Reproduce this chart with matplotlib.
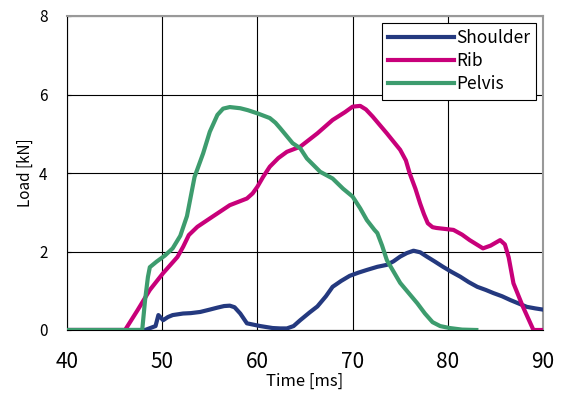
import matplotlib.pyplot as plt

plt.rcParams['font.family'] = ['Noto Sans CJK JP', 'DejaVu Sans']

# Shoulder
shoulder_t = [40, 48.2, 49.3, 49.6, 50.1, 50.6, 51.1, 52.2, 53, 54, 55, 55.8, 56.5, 57.1,
              57.6, 58.2, 58.9, 60.3, 61.6, 62.4, 63.1, 63.8, 64.5, 65.5, 66.3, 67.2, 67.9,
              68.8, 69.7, 70.6, 71.5, 72.6, 73.6, 74.3, 75, 75.7, 76.4, 77.1, 77.8, 78.6,
              79.5, 80.4, 81.3, 82.2, 83.1, 84, 84.8, 85.7, 86.6, 87.5, 88.3, 89.2, 90]
shoulder_v = [0, 0, 0.1, 0.38, 0.25, 0.33, 0.38, 0.42, 0.43, 0.46, 0.52, 0.57, 0.61, 0.62,
              0.58, 0.42, 0.17, 0.1, 0.05, 0.04, 0.04, 0.1, 0.25, 0.45, 0.6, 0.86, 1.1,
              1.25, 1.38, 1.46, 1.53, 1.61, 1.66, 1.75, 1.87, 1.96, 2.02, 1.98, 1.87, 1.75,
              1.61, 1.48, 1.36, 1.22, 1.1, 1.02, 0.94, 0.86, 0.76, 0.67, 0.59, 0.55, 0.52]

# Rib
rib_t = [40, 46.1, 47.4, 48.7, 50.1, 51.6, 52.2, 52.8, 53.7, 55.3, 57.1, 58.9, 59.5, 60,
         60.6, 61.3, 62.2, 63.1, 64.5, 66.3, 67.9, 69.2, 70, 70.8, 71.4, 72.1, 73.6, 75,
         75.6, 76, 76.6, 77.1, 77.5, 77.9, 78.4, 78.8, 80.6, 81.5, 82.3, 83.7, 84.5,
         85.5, 86, 86.4, 86.9, 87.9, 89, 90]
rib_v = [0, 0, 0.5, 1.02, 1.45, 1.86, 2.12, 2.42, 2.63, 2.89, 3.18, 3.35, 3.48, 3.65,
         3.9, 4.16, 4.38, 4.54, 4.67, 5.01, 5.35, 5.55, 5.69, 5.71, 5.62, 5.44, 5.01, 4.59,
         4.32, 3.99, 3.6, 3.22, 2.95, 2.72, 2.62, 2.6, 2.55, 2.43, 2.29, 2.08, 2.15,
         2.29, 2.18, 1.85, 1.19, 0.59, 0, 0]

# Pelvis
pelvis_t = [40, 47.9, 48.2, 48.5, 48.7, 49.4, 50.3, 51.1, 51.9, 52.6, 53.4, 54.3, 55,
            55.8, 56.4, 57.1, 58.2, 59, 60, 61.3, 61.9, 62.4, 63.7, 64.5, 65.2, 66.6,
            67.9, 69, 70, 70.8, 71.5, 72.3, 72.6, 73.1, 73.6, 75, 76.8, 77.6, 78.4,
            79.2, 80.2, 81.5, 83]
pelvis_v = [0, 0, 0.76, 1.35, 1.6, 1.74, 1.9, 2.08, 2.4, 2.9, 3.9, 4.5, 5.05,
            5.48, 5.64, 5.68, 5.65, 5.6, 5.52, 5.4, 5.28, 5.14, 4.76, 4.63, 4.37, 4.03,
            3.86, 3.6, 3.4, 3.1, 2.8, 2.55, 2.47, 2.15, 1.78, 1.2, 0.68, 0.42, 0.2,
            0.1, 0.05, 0.01, 0]

fig = plt.figure(figsize=(5.65, 4), dpi=100)
ax = fig.add_axes([0.1186, 0.175, 0.8424, 0.785])

ax.plot(shoulder_t, shoulder_v, color='#24397f', lw=3, label='Shoulder', zorder=3)
ax.plot(rib_t, rib_v, color='#c8007a', lw=3, label='Rib', zorder=3)
ax.plot(pelvis_t, pelvis_v, color='#3d9c6e', lw=3, label='Pelvis', zorder=3)

ax.set_xlim(40, 90)
ax.set_ylim(0, 8)
ax.set_xticks(range(40, 91, 10))
ax.set_yticks(range(0, 9, 2))
ax.grid(True, color='black', lw=0.8)
ax.tick_params(axis='x', labelsize=15, length=0, pad=15)
ax.tick_params(axis='y', labelsize=11, length=3, direction='in', pad=14)

for s in ['top', 'right']:
    ax.spines[s].set_color('#999999')
    ax.spines[s].set_linewidth(1.5)
ax.spines['left'].set_color('black')
ax.spines['bottom'].set_color('black')

ax.set_xlabel('Time [ms]', fontsize=12, labelpad=0)
ax.set_ylabel('Load [kN]', fontsize=11, labelpad=4)

leg = ax.legend(loc='upper right', fontsize=12.5, fancybox=False, framealpha=1,
                edgecolor='black', borderpad=0.35, handlelength=3.8, handletextpad=0.1,
                labelspacing=0.3, borderaxespad=0.4)
leg.get_frame().set_linewidth(0.8)
for line in leg.get_lines():
    line.set_linewidth(3)

fig.savefig('out.png', dpi=100)
